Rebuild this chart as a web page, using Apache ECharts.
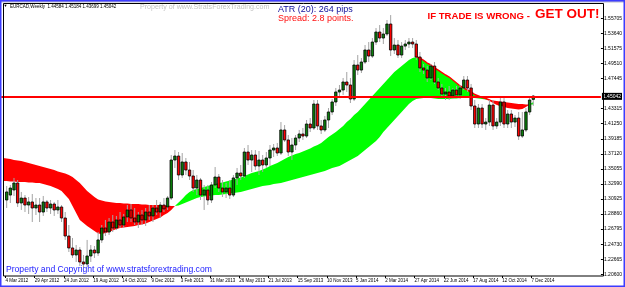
<!DOCTYPE html>
<html><head><meta charset="utf-8">
<script src="https://cdn.jsdelivr.net/npm/echarts@6/dist/echarts.min.js"></script>
<style>html,body{margin:0;padding:0;background:#fff;}#c{width:625px;height:287px;}</style>
</head><body><div id="c"></div>
<script>
// x-axis tick labels (every 8 weeks)
const tickLabels = ['4 Mar 2012','29 Apr 2012','24 Jun 2012','19 Aug 2012','14 Oct 2012','9 Dec 2012','3 Feb 2013','31 Mar 2013','26 May 2013','21 Jul 2013','15 Sep 2013','10 Nov 2013','5 Jan 2014','2 Mar 2014','27 Apr 2014','22 Jun 2014','17 Aug 2014','12 Oct 2014','7 Dec 2014'];
// y-axis tick labels (price scale)
const yTickValues = [1.20600,1.22665,1.24730,1.26795,1.28860,1.30925,1.32990,1.35055,1.37120,1.39185,1.41250,1.43315,1.47445,1.49510,1.51575,1.53640,1.55705];
const lastPrice = 1.45042;

// weekly candles, 4 Mar 2012 .. 7 Dec 2014
const openP = [
1.3079,1.3147,1.3216,1.3312,1.3038,1.3106,1.3010,1.3052,1.2969,1.3010,
1.2914,1.3052,1.2969,1.3024,1.2942,1.2983,1.2832,1.2585,1.2421,1.2325,
1.2393,1.2229,1.2201,1.2311,1.2393,1.2352,1.2531,1.2695,1.2640,1.2777,
1.2695,1.2805,1.2736,1.2846,1.2942,1.2832,1.2777,1.2873,1.2805,1.2914,
1.2860,1.2969,1.2914,1.3010,1.2983,1.3106,1.3627,1.3682,1.3422,1.3600,
1.3490,1.3408,1.3243,1.3353,1.3147,1.3216,1.3079,1.3285,1.3394,1.3243,
1.3189,1.3243,1.3147,1.3381,1.3449,1.3408,1.3737,1.3627,1.3696,1.3545,
1.3627,1.3559,1.3655,1.3764,1.3792,1.3723,1.4039,1.3902,1.3737,1.3833,
1.3929,1.3984,1.3956,1.4121,1.4066,1.4395,1.4094,1.4039,1.4176,1.4286,
1.4423,1.4560,1.4587,1.4697,1.4656,1.4464,1.4930,1.4861,1.4971,1.5136,
1.5053,1.5245,1.5382,1.5300,1.5355,1.5492,1.5136,1.5204,1.5067,1.5190,
1.5218,1.5245,1.5218,1.5040,1.4889,1.4861,1.4752,1.4916,1.4697,1.4615,
1.4532,1.4560,1.4505,1.4587,1.4519,1.4615,1.4724,1.4615,1.4368,1.4121,
1.4340,1.4121,1.4148,1.4381,1.4094,1.4148,1.4423,1.4121,1.4258,1.4148,
1.4203,1.3956,1.4039,1.4286,1.44584];
const highP = [
1.3271,1.3285,1.3381,1.3353,1.3189,1.3147,1.3120,1.3161,1.3106,1.3106,
1.3134,1.3079,1.3079,1.3052,1.3079,1.3010,1.2914,1.2736,1.2558,1.2462,
1.2434,1.2325,1.2531,1.2462,1.2448,1.2640,1.2736,1.2805,1.2832,1.2873,
1.2860,1.2914,1.2887,1.3010,1.3024,1.2969,1.2914,1.2942,1.2969,1.3010,
1.3010,1.3079,1.3052,1.3106,1.3134,1.3696,1.3764,1.3737,1.3723,1.3655,
1.3600,1.3490,1.3422,1.3381,1.3285,1.3285,1.3326,1.3531,1.3435,1.3353,
1.3312,1.3353,1.3422,1.3518,1.3559,1.3792,1.3833,1.3764,1.3764,1.3751,
1.3696,1.3737,1.3833,1.3847,1.3861,1.4148,1.4107,1.3970,1.3929,1.3970,
1.4039,1.4066,1.4176,1.4203,1.4450,1.4450,1.4176,1.4231,1.4340,1.4464,
1.4615,1.4656,1.4752,1.4834,1.4752,1.4998,1.5067,1.5026,1.5204,1.5245,
1.5300,1.5437,1.5478,1.5437,1.5547,1.5615,1.5300,1.5273,1.5245,1.5273,
1.5300,1.5300,1.5273,1.5108,1.4944,1.4916,1.4944,1.4971,1.4752,1.4670,
1.4615,1.4642,1.4615,1.4642,1.4656,1.4779,1.4779,1.4670,1.4450,1.4395,
1.4395,1.4203,1.4450,1.4450,1.4203,1.4477,1.4477,1.4313,1.4313,1.4244,
1.4286,1.4286,1.4340,1.4505,1.45184];
const lowP = [
1.2969,1.3038,1.3134,1.2983,1.2942,1.2914,1.2887,1.2777,1.2873,1.2777,
1.2860,1.2914,1.2887,1.2860,1.2887,1.2777,1.2531,1.2366,1.2284,1.2229,
1.2174,1.2147,1.2160,1.2229,1.2284,1.2311,1.2490,1.2585,1.2599,1.2640,
1.2668,1.2695,1.2695,1.2777,1.2777,1.2736,1.2695,1.2736,1.2723,1.2805,
1.2777,1.2873,1.2832,1.2914,1.2942,1.3079,1.3518,1.3353,1.3381,1.3422,
1.3353,1.3189,1.3147,1.3079,1.2942,1.3010,1.3038,1.3243,1.3189,1.3120,
1.3106,1.3093,1.3120,1.3285,1.3353,1.3381,1.3559,1.3463,1.3490,1.3422,
1.3463,1.3518,1.3545,1.3669,1.3682,1.3696,1.3874,1.3682,1.3627,1.3764,
1.3874,1.3902,1.3929,1.4011,1.4039,1.4039,1.3984,1.4011,1.4066,1.4244,
1.4368,1.4477,1.4519,1.4560,1.4409,1.4436,1.4793,1.4820,1.4944,1.4971,
1.5026,1.5204,1.5245,1.5218,1.5327,1.5053,1.5081,1.5026,1.5026,1.5136,
1.5163,1.5163,1.4998,1.4834,1.4807,1.4697,1.4724,1.4670,1.4587,1.4491,
1.4450,1.4450,1.4464,1.4477,1.4464,1.4587,1.4560,1.4313,1.4066,1.4066,
1.4066,1.4039,1.4094,1.4039,1.4053,1.4094,1.4066,1.4066,1.4066,1.4080,
1.3902,1.3929,1.4011,1.4244,1.43699];
const closeP = [
1.3189,1.3243,1.3312,1.3038,1.3106,1.3010,1.3052,1.2969,1.3010,1.2914,
1.3052,1.2969,1.3024,1.2942,1.2983,1.2832,1.2585,1.2421,1.2325,1.2393,
1.2229,1.2201,1.2311,1.2393,1.2352,1.2531,1.2695,1.2640,1.2777,1.2695,
1.2805,1.2736,1.2846,1.2942,1.2832,1.2777,1.2873,1.2805,1.2914,1.2860,
1.2969,1.2914,1.3010,1.2956,1.3106,1.3627,1.3682,1.3422,1.3600,1.3490,
1.3408,1.3243,1.3353,1.3147,1.3216,1.3079,1.3285,1.3394,1.3243,1.3189,
1.3243,1.3147,1.3381,1.3449,1.3408,1.3737,1.3627,1.3696,1.3545,1.3627,
1.3559,1.3655,1.3764,1.3792,1.3723,1.4039,1.3902,1.3737,1.3833,1.3929,
1.3984,1.3956,1.4121,1.4066,1.4395,1.4094,1.4039,1.4176,1.4286,1.4423,
1.4560,1.4587,1.4697,1.4656,1.4464,1.4930,1.4861,1.4971,1.5136,1.5053,
1.5245,1.5382,1.5300,1.5355,1.5492,1.5136,1.5204,1.5067,1.5190,1.5218,
1.5245,1.5218,1.5040,1.4889,1.4861,1.4752,1.4916,1.4697,1.4615,1.4532,
1.4560,1.4505,1.4587,1.4519,1.4615,1.4724,1.4615,1.4368,1.4121,1.4340,
1.4121,1.4148,1.4381,1.4094,1.4148,1.4423,1.4121,1.4258,1.4148,1.4203,
1.3956,1.4039,1.4286,1.4450,1.45042];

// indicator band: slow and fast averages, 26 Feb 2012 .. 7 Dec 2014
const slowMA = [
1.3655,1.3648,1.3641,1.3627,1.3621,1.3614,1.3600,1.3586,1.3573,1.3559,
1.3545,1.3531,1.3518,1.3504,1.3490,1.3470,1.3456,1.3442,1.3422,1.3394,
1.3353,1.3312,1.3257,1.3202,1.3161,1.3120,1.3086,1.3072,1.3058,1.3052,
1.3045,1.3038,1.3038,1.3031,1.3031,1.3024,1.3024,1.3024,1.3017,1.3017,
1.3010,1.3010,1.3010,1.3010,1.3004,1.3004,1.2997,1.2997,1.3004,1.3024,
1.3045,1.3065,1.3086,1.3106,1.3120,1.3127,1.3134,1.3141,1.3147,1.3147,
1.3154,1.3161,1.3168,1.3175,1.3182,1.3189,1.3202,1.3216,1.3230,1.3243,
1.3257,1.3271,1.3278,1.3285,1.3298,1.3305,1.3312,1.3326,1.3340,1.3353,
1.3367,1.3381,1.3394,1.3408,1.3422,1.3435,1.3449,1.3463,1.3477,1.3497,
1.3518,1.3531,1.3545,1.3573,1.3600,1.3627,1.3655,1.3682,1.3723,1.3765,
1.3806,1.3847,1.3888,1.3943,1.4011,1.4066,1.4121,1.4176,1.4231,1.4286,
1.4340,1.4395,1.4436,1.4464,1.4471,1.4477,1.4477,1.4477,1.4471,1.4464,
1.4464,1.4464,1.4464,1.4471,1.4471,1.4477,1.4477,1.4477,1.4477,1.4477,
1.4471,1.4464,1.4457,1.4450,1.4443,1.4436,1.4429,1.4423,1.4416,1.4409,
1.4402,1.4395,1.4395,1.4388,1.4388,1.4388];
const fastMA = [
1.3340,1.3340,1.3333,1.3333,1.3326,1.3326,1.3326,1.3319,1.3319,1.3312,
1.3312,1.3298,1.3285,1.3271,1.3250,1.3230,1.3202,1.3147,1.3093,1.2997,
1.2901,1.2805,1.2764,1.2723,1.2688,1.2654,1.2620,1.2613,1.2627,1.2640,
1.2661,1.2681,1.2695,1.2702,1.2709,1.2716,1.2723,1.2736,1.2743,1.2757,
1.2777,1.2798,1.2818,1.2839,1.2873,1.2901,1.2942,1.2997,1.3045,1.3093,
1.3147,1.3189,1.3216,1.3230,1.3243,1.3257,1.3271,1.3285,1.3298,1.3312,
1.3319,1.3333,1.3346,1.3360,1.3374,1.3388,1.3408,1.3429,1.3449,1.3463,
1.3477,1.3497,1.3518,1.3545,1.3566,1.3586,1.3614,1.3641,1.3669,1.3689,
1.3710,1.3723,1.3744,1.3765,1.3785,1.3812,1.3833,1.3861,1.3902,1.3943,
1.3977,1.4011,1.4052,1.4094,1.4148,1.4190,1.4244,1.4286,1.4340,1.4395,
1.4450,1.4505,1.4560,1.4615,1.4669,1.4724,1.4779,1.4834,1.4875,1.4916,
1.4957,1.4998,1.5026,1.5040,1.5026,1.4992,1.4957,1.4930,1.4889,1.4861,
1.4827,1.4793,1.4765,1.4724,1.4683,1.4642,1.4615,1.4587,1.4560,1.4525,
1.4505,1.4484,1.4471,1.4450,1.4423,1.4395,1.4375,1.4354,1.4340,1.4333,
1.4327,1.4320,1.4327,1.4354,1.4388,1.4423];

// categories: weekly dates from 26 Feb 2012 plus empty chart-shift weeks
const MONTHS = ['Jan','Feb','Mar','Apr','May','Jun','Jul','Aug','Sep','Oct','Nov','Dec'];
const NCAT = 164;
const categories = [];
for (let i = 0; i < NCAT; i++) {
  const d = new Date(Date.UTC(2012, 1, 26) + i * 7 * 86400000);
  categories.push(d.getUTCDate() + ' ' + MONTHS[d.getUTCMonth()] + ' ' + d.getUTCFullYear());
}

const candleData = openP.map((o, i) => [i + 1, o, closeP[i], lowP[i], highP[i]]);
const bandBase = slowMA.map((s, i) => Math.min(s, fastMA[i]));
const bandGreen = slowMA.map((s, i) => Math.max(0, fastMA[i] - s));
const bandRed = slowMA.map((s, i) => Math.max(0, s - fastMA[i]));
const redEdge = fastMA.map((f, i) => (i >= 113 && i <= 136) ? f : '-');

const FONT = '"Liberation Sans", Arial, "DejaVu Sans", sans-serif';
const labelSet = new Set(tickLabels);

function renderCandle(params, api) {
  const x = api.value(0);
  const o = api.value(1), c = api.value(2), l = api.value(3), h = api.value(4);
  const pO = api.coord([x, o]), pC = api.coord([x, c]);
  const pL = api.coord([x, l]), pH = api.coord([x, h]);
  const bw = 2.4;
  const top = Math.min(pO[1], pC[1]);
  const bh = Math.max(Math.abs(pO[1] - pC[1]), 0.8);
  const up = c >= o;
  return {
    type: 'group',
    children: [
      { type: 'line', shape: { x1: pH[0], y1: pH[1], x2: pL[0], y2: pL[1] }, style: { stroke: '#a4a4a4', lineWidth: 1 } },
      { type: 'rect', shape: { x: pO[0] - bw / 2, y: top, width: bw, height: bh },
        style: { fill: up ? '#0a800a' : '#ff0000', stroke: '#000', lineWidth: 0.8 } }
    ]
  };
}

const chart = echarts.init(document.getElementById('c'), null, { renderer: 'canvas' });
chart.setOption({
  animation: false,
  backgroundColor: '#ffffff',
  grid: [
    { left: 1.2, right: 22, top: 18.3, bottom: 12.7 },
    { left: -2.8, right: 26, top: 18.3, bottom: 11 }
  ],
  xAxis: [
    { type: 'category', data: categories, boundaryGap: true, show: false, gridIndex: 0 },
    { type: 'category', data: categories, boundaryGap: true, gridIndex: 1,
      axisLine: { show: false },
      axisTick: { show: true, alignWithLabel: true, length: 2, interval: (i, v) => labelSet.has(v), lineStyle: { color: '#000', width: 1 } },
      axisLabel: { show: true, interval: (i, v) => labelSet.has(v), align: 'left', margin: 2,
        fontSize: 4.5, color: '#000', fontFamily: FONT }
    }
  ],
  yAxis: [
    { type: 'value', position: 'right', min: 1.206, max: 1.55705, gridIndex: 0,
      splitLine: { show: false }, axisLine: { show: false },
      axisTick: { show: true, length: 2, customValues: yTickValues, lineStyle: { color: '#000' } },
      axisLabel: { show: true, customValues: yTickValues, margin: 3, fontSize: 5, color: '#000', fontFamily: FONT,
        formatter: v => v.toFixed(5) }
    },
    { type: 'value', gridIndex: 1, show: false, min: 0, max: 1 }
  ],
  series: [
    { type: 'line', stack: 'band', data: bandBase, symbol: 'none', silent: true, z: 1,
      lineStyle: { width: 0, opacity: 0 } },
    { type: 'line', stack: 'band', data: bandGreen, symbol: 'none', silent: true, z: 1,
      lineStyle: { width: 0, opacity: 0 }, areaStyle: { color: '#00ff00', opacity: 1 } },
    { type: 'line', stack: 'band', data: bandRed, symbol: 'none', silent: true, z: 1,
      lineStyle: { width: 0, opacity: 0 }, areaStyle: { color: '#ff0000', opacity: 1 } },
    { type: 'line', data: redEdge, symbol: 'none', silent: true, z: 2,
      lineStyle: { color: '#ff0000', width: 1.5 },
      markLine: {
        silent: true, symbol: ['none', 'none'],
        lineStyle: { color: '#ff0000', width: 2, type: 'solid' },
        label: { show: true, position: 'end', distance: 1, formatter: lastPrice.toFixed(5),
          color: '#fff', backgroundColor: '#000', fontSize: 5, fontFamily: FONT, padding: [1, 1, 1, 1] },
        data: [{ yAxis: lastPrice }]
      }
    },
    { type: 'custom', renderItem: renderCandle, data: candleData, clip: false, z: 3,
      encode: { x: 0, y: [1, 2, 3, 4] } }
  ],
  graphic: [
    { type: 'rect', z: 100, shape: { x: 0, y: 0, width: 625, height: 2.5 }, style: { fill: '#b8b8cc' } },
    { type: 'rect', z: 100, shape: { x: 0.75, y: 0.75, width: 623.5, height: 285.5 }, style: { fill: null, stroke: '#3c3cff', lineWidth: 1.5 } },
    { type: 'rect', z: 100, shape: { x: 3.5, y: 3.5, width: 600, height: 272.5 }, style: { fill: null, stroke: '#000', lineWidth: 1 } },
    { type: 'text', z: 101, x: 3.5, y: 4, style: { text: '\u25BC', font: '4px ' + FONT, fill: '#000', verticalAlign: 'top' } },
    { type: 'text', z: 101, x: 10, y: 3.8, style: { text: 'EURCAD,Weekly  1.44584 1.45184 1.43699 1.45042', font: '4.5px ' + FONT, fill: '#000', verticalAlign: 'top' } },
    { type: 'text', z: 101, x: 140, y: 3.5, style: { text: 'Property of www.StratsForexTrading.com', font: '7.1px ' + FONT, fill: '#c4c4c4', verticalAlign: 'top' } },
    { type: 'text', z: 101, x: 278, y: 5.5, style: { text: 'ATR (20): 264 pips', font: '9px ' + FONT, fill: '#10109c', verticalAlign: 'top' } },
    { type: 'text', z: 101, x: 278, y: 14.5, style: { text: 'Spread: 2.8 points.', font: '9px ' + FONT, fill: '#ff1010', verticalAlign: 'top' } },
    { type: 'text', z: 101, x: 427.5, y: 11, style: { text: 'IF TRADE IS WRONG - ', font: 'bold 9.6px ' + FONT, fill: '#ff0000', verticalAlign: 'top' } },
    { type: 'text', z: 101, x: 535, y: 7.5, style: { text: 'GET OUT!', font: 'bold 13.5px ' + FONT, fill: '#ff0000', verticalAlign: 'top' } },
    { type: 'text', z: 101, x: 6, y: 265, style: { text: 'Property and Copyright of www.stratsforextrading.com', font: '8.6px ' + FONT, fill: '#1a1aff', verticalAlign: 'top' } }
  ]
});
</script>
</body></html>
